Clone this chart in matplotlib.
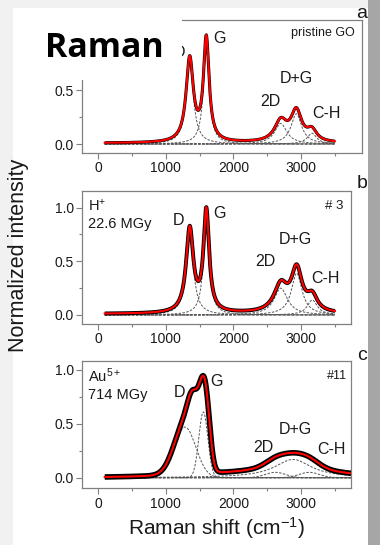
import numpy as np
import matplotlib
matplotlib.use('Agg')
import matplotlib.pyplot as plt
from matplotlib.patches import Rectangle
from matplotlib.ticker import MultipleLocator

# ---------------- data (peak parameters) ----------------
# kind: 'L' = Lorentzian (width = half width), 'G' = Gaussian (width = sigma)
a_names   = ['D', 'G', '2D', 'D+G', 'C-H']
a_centers = [1355, 1600, 2700, 2930, 3160]
a_heights = [0.77, 0.95, 0.19, 0.28, 0.10]
a_widths  = [64, 50, 110, 95, 85]
a_kinds   = ['L', 'L', 'L', 'L', 'L']
a_offset  = 0.008

b_names   = ['D', 'G', '2D', 'D+G', 'C-H']
b_centers = [1355, 1600, 2700, 2935, 3165]
b_heights = [0.78, 0.94, 0.25, 0.39, 0.14]
b_widths  = [64, 50, 120, 95, 90]
b_kinds   = ['L', 'L', 'L', 'L', 'L']
b_offset  = 0.01

c_names   = ['D', 'G', 'a1', 'a2', '2D', 'D+G', 'C-H', 'bg']
c_centers = [1285, 1556, 1410, 1620, 2620, 2880, 3120, 2400]
c_heights = [0.47, 0.61, 0.38, 0.22, 0.05, 0.17, 0.05, 0.04]
c_widths  = [160, 67, 80, 55, 150, 330, 150, 1100]
c_kinds   = ['G', 'G', 'G', 'G', 'G', 'L', 'G', 'G']
c_shown   = [True, True, False, False, True, True, True, False]
c_offset  = 0.0

x_ticks = [0, 1000, 2000, 3000]
y_ticks = [0.0, 0.5, 1.0]

# ---------------- helpers ----------------
def profile(x, c, h, w, kind):
    if kind == 'L':
        return h / (1.0 + ((x - c) / w) ** 2)
    return h * np.exp(-(x - c) ** 2 / (2.0 * w ** 2))

plt.rcParams['font.family'] = ['Liberation Sans', 'DejaVu Sans']
plt.rcParams['mathtext.fontset'] = 'custom'
plt.rcParams['mathtext.rm'] = 'Liberation Sans'
plt.rcParams['mathtext.it'] = 'Liberation Sans:italic'

W, H = 380, 545
fig = plt.figure(figsize=(W / 100, H / 100), dpi=100, facecolor='#f1f1f1')

def fr(x, y):
    return x / W, 1 - y / H

def rect(x0, y0, x1, y1):
    return [x0 / W, 1 - y1 / H, (x1 - x0) / W, (y1 - y0) / H]

# backgrounds
fig.patches.append(Rectangle((13 / W, 0), (368 - 13) / W, 1 - 8 / H,
                             transform=fig.transFigure, facecolor='white',
                             edgecolor='none', zorder=-10))
fig.patches.append(Rectangle((368 / W, 0), 12 / W, 1,
                             transform=fig.transFigure, facecolor='#a6a6a6',
                             edgecolor='none', zorder=-10))

frame_col = '#808080'
txt_col = '#1a1a1a'

def style(ax, xlim, ylim, yt):
    ax.set_xlim(*xlim)
    ax.set_ylim(*ylim)
    for s in ax.spines.values():
        s.set_color(frame_col)
        s.set_linewidth(0.9)
    ax.set_xticks(x_ticks)
    ax.set_yticks(yt)
    ax.yaxis.set_major_formatter(matplotlib.ticker.FormatStrFormatter('%.1f'))
    ax.xaxis.set_minor_locator(MultipleLocator(500))
    ax.yaxis.set_minor_locator(MultipleLocator(0.25))
    ax.tick_params(which='major', direction='out', length=4, width=0.8,
                   color=frame_col, labelsize=10, labelcolor=txt_col, pad=2)
    ax.tick_params(which='minor', direction='out', length=2, width=0.8,
                   color=frame_col)
    ax.tick_params(top=False, right=False)
    ax.set_facecolor('white')

def draw(ax, x, centers, heights, widths, kinds, offset, shown, data_lw):
    comps = [profile(x, c, h, w, k) for c, h, w, k in zip(centers, heights, widths, kinds)]
    total = np.sum(comps, axis=0) + offset
    ax.plot(x, np.zeros_like(x), ls=(0, (2.5, 1.5)), color='#555555', lw=0.8, zorder=2)
    for comp, s in zip(comps, shown):
        if s:
            ax.plot(x, comp, ls=(0, (2.5, 1.5)), color='#555555', lw=0.7, zorder=2)
    ax.plot(x, total, color='black', lw=data_lw, zorder=3, solid_capstyle='butt')
    ax.plot(x, total, color='#ff0000', lw=1.5, zorder=4)

# ---------------- panel a ----------------
axa = fig.add_axes(rect(82, 20, 362, 153))
style(axa, (-236, 3900), (-0.083, 1.148), y_ticks[:2])
xa = np.arange(100, 3501, 2.0)
draw(axa, xa, a_centers, a_heights, a_widths, a_kinds, a_offset, [True] * 5, 2.2)
for s, (px, py) in zip(['D', 'G', '2D', 'D+G', 'C-H'],
                       [(1210, 0.85), (1800, 0.98), (2540, 0.39), (2935, 0.61), (3368, 0.28)]):
    axa.text(px, py, s, ha='center', va='center', fontsize=11.5, color=txt_col)
axa.text(3800, 1.03, 'pristine GO', ha='right', va='center', fontsize=9, color=txt_col)

# ---------------- panel b ----------------
axb = fig.add_axes(rect(82, 190.7, 351, 324))
style(axb, (-236, 3737), (-0.084, 1.158), y_ticks)
draw(axb, xa, b_centers, b_heights, b_widths, b_kinds, b_offset, [True] * 5, 2.8)
for s, (px, py) in zip(['D', 'G', '2D', 'D+G', 'C-H'],
                       [(1186, 0.885), (1802, 0.95), (2477, 0.50), (2910, 0.70), (3353, 0.34)]):
    axb.text(px, py, s, ha='center', va='center', fontsize=11.5, color=txt_col)
axb.text(-140, 1.02, r'H$^{+}$', ha='left', va='center', fontsize=10.5, color=txt_col)
axb.text(-140, 0.85, '22.6 MGy', ha='left', va='center', fontsize=10.5, color=txt_col)
axb.text(3620, 1.02, '# 3', ha='right', va='center', fontsize=9.5, color=txt_col)

# ---------------- panel c ----------------
axc = fig.add_axes(rect(82, 361, 351, 488.3))
style(axc, (-236, 3737), (-0.098, 1.083), y_ticks)
xc = np.arange(100, 3801, 2.0)
draw(axc, xc, c_centers, c_heights, c_widths, c_kinds, c_offset, c_shown, 4.0)
for s, (px, py) in zip(['D', 'G', '2D', 'D+G', 'C-H'],
                       [(1211, 0.79), (1753, 0.89), (2442, 0.28), (2910, 0.45), (3451, 0.26)]):
    axc.text(px, py, s, ha='center', va='center', fontsize=11.5, color=txt_col)
axc.text(-140, 0.95, r'Au$^{5+}$', ha='left', va='center', fontsize=10.5, color=txt_col)
axc.text(-140, 0.77, '714 MGy', ha='left', va='center', fontsize=10.5, color=txt_col)
axc.text(3680, 0.94, '#11', ha='right', va='center', fontsize=9, color=txt_col)
axc.set_xlabel('Raman shift (cm$^{-1}$)', fontsize=15, color=txt_col, labelpad=3)

# panel letters
for s, (px, py) in zip(['a', 'b', 'c'], [(362, 13), (362, 184), (362, 356)]):
    fig.text(*fr(px, py), s, ha='center', va='center', fontsize=14, color=txt_col)

fig.text(*fr(19, 255), 'Normalized intensity', rotation=90, ha='center', va='center',
         fontsize=15.5, color=txt_col)

# white cover and title
fig.patches.append(Rectangle(fr(13, 80), (182 - 13) / W, (80 - 8) / H,
                             transform=fig.transFigure, facecolor='white',
                             edgecolor='none', zorder=5))
fig.texts.append(matplotlib.text.Text(*fr(45, 56.7), 'Raman', ha='left', va='baseline',
                                      fontsize=24.5, fontweight='bold',
                                      family=['Open Sans', 'DejaVu Sans'], color='black',
                                      transform=fig.transFigure, zorder=6, figure=fig))

fig.savefig('out.png', dpi=100, facecolor=fig.get_facecolor())
